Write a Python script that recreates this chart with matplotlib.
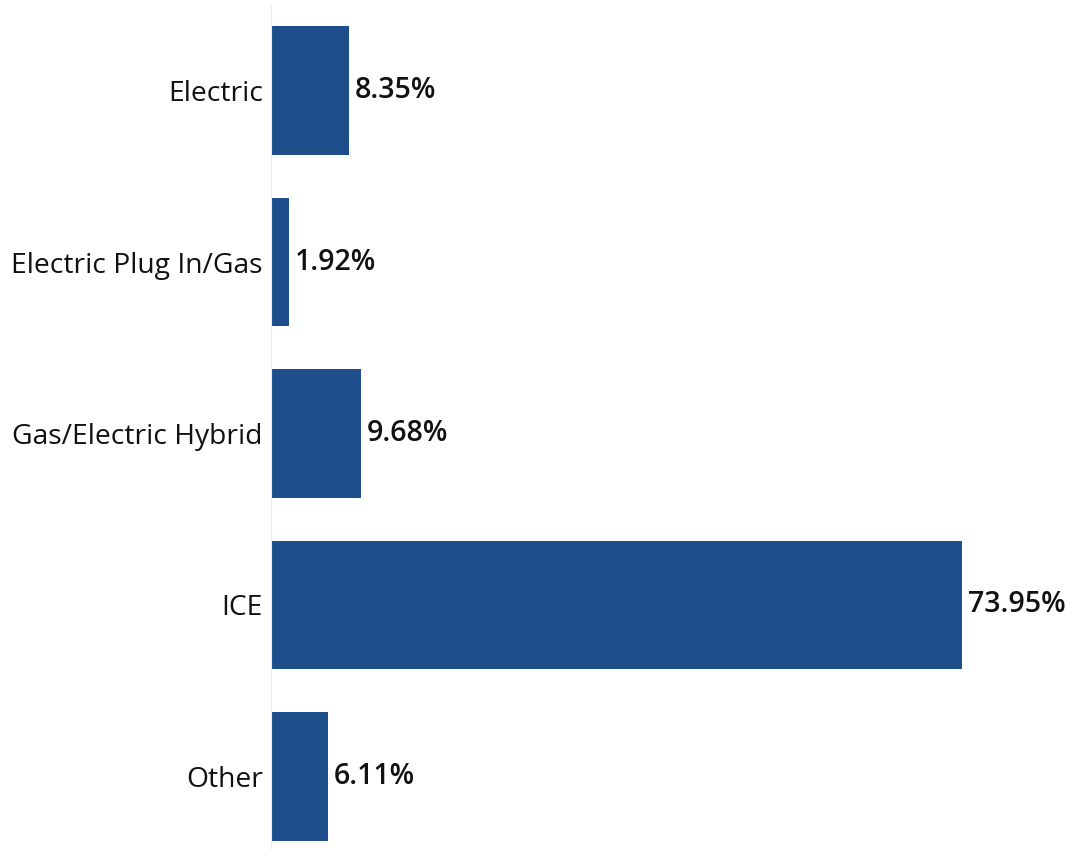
import matplotlib.pyplot as plt

categories = ['Electric', 'Electric Plug In/Gas', 'Gas/Electric Hybrid', 'ICE', 'Other']
shares = [8.35, 1.92, 9.68, 73.95, 6.11]
labels = ['8.35%', '1.92%', '9.68%', '73.95%', '6.11%']

fig = plt.figure(figsize=(10.68, 8.5), dpi=100)
# axes placed in pixel terms of the 1068x850 canvas
ax = fig.add_axes([271 / 1068, -12 / 850, 797 / 1068, 857 / 850])

pos = list(range(len(categories)))
ax.barh(pos, shares, height=0.75, color='#1f4e8c')
for p, v, lab in zip(pos, shares, labels):
    ax.text(v + 0.6, p, lab, va='center', ha='left', fontsize=20.5,
            fontweight='semibold', family='Open Sans', color='#111111')

ax.set_ylim(len(categories) - 0.5, -0.5)
ax.set_xlim(0, 85.3)
ax.set_yticks(pos)
ax.set_yticklabels(categories, fontsize=20.3, family='Open Sans', color='#111111')
ax.tick_params(axis='y', length=0, pad=6)
ax.set_xticks([])
for s in ['top', 'right', 'bottom']:
    ax.spines[s].set_visible(False)
ax.spines['left'].set_color('#eeeeee')

fig.savefig('out.png', dpi=100)
